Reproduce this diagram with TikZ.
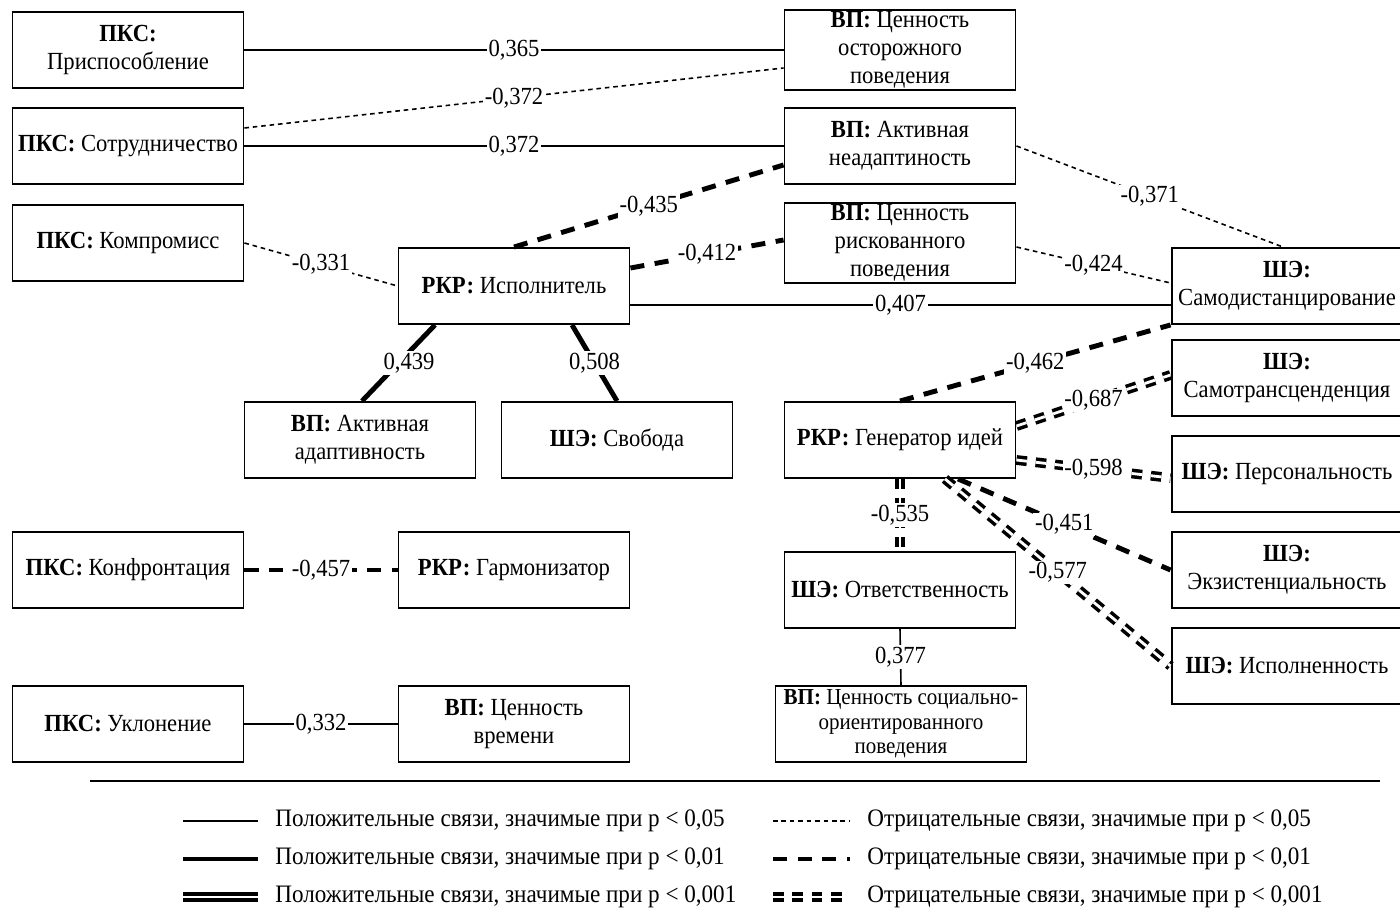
\documentclass[tikz,border=0pt]{standalone}
\usepackage{fontspec}
\setmainfont{Liberation Serif}[FakeStretch=0.92]
\usetikzlibrary{calc}

\newcommand{\grp}[1]{\textbf{#1:}}

\tikzset{
  box/.style={draw, line width=1.1pt, minimum width=4.62cm, minimum height=1.52cm,
    align=center, inner sep=1pt, font=\fontsize{14}{16}\selectfont},
  lbl/.style={fill=white, inner sep=1pt, font=\fontsize{14}{15}\selectfont},
  legtext/.style={anchor=west, inner sep=0pt, font=\fontsize{14.3}{15}\selectfont},
  pos05/.style={line width=0.9pt},
  pos01/.style={line width=2.8pt},
  pos001/.style={double, line width=2.2pt, double distance=1.7pt},
  neg05/.style={line width=0.9pt, dash pattern=on 2.6pt off 2.2pt},
  neg01/.style={line width=2.8pt, dash pattern=on 8pt off 6pt},
  neg001/.style={double, line width=2pt, double distance=1.6pt, dash pattern=on 6pt off 5pt},
}

\begin{document}
\begin{tikzpicture}[x=0.02cm, y=-0.02cm]

    \useasboundingbox (0,0) rectangle (1400,911);

    % Left column: ПКС
    \node[box] (prisp) at (128,50)  {\grp{ПКС}\\Приспособление};
    \node[box] (sotr)  at (128,146) {\grp{ПКС} Сотрудничество};
    \node[box] (kompr) at (128,243) {\grp{ПКС} Компромисс};
    \node[box] (konfr) at (128,570) {\grp{ПКС} Конфронтация};
    \node[box] (uklon) at (128,724) {\grp{ПКС} Уклонение};

    % Middle column
    \node[box] (ispoln)  at (514,286) {\grp{РКР} Исполнитель};
    \node[box] (adapt)   at (360,440) {\grp{ВП} Активная\\адаптивность};
    \node[box] (svoboda) at (617,440) {\grp{ШЭ} Свобода};
    \node[box] (garmon)  at (514,570) {\grp{РКР} Гармонизатор};
    \node[box] (vremya)  at (514,724) {\grp{ВП} Ценность\\времени};

    % ВП column and РКР: Генератор идей
    \node[box] (ostor)   at (900,50)  {\grp{ВП} Ценность\\осторожного\\поведения};
    \node[box] (neadapt) at (900,146) {\grp{ВП} Активная\\неадаптиность};
    \node[box] (risk)    at (900,243) {\grp{ВП} Ценность\\рискованного\\поведения};
    \node[box] (gener)   at (900,440) {\grp{РКР} Генератор идей};
    \node[box] (otvet)   at (900,590) {\grp{ШЭ} Ответственность};
    \node[box, minimum width=5.02cm, font=\fontsize{13}{14}\selectfont] (socor) at (901,724)
        {\grp{ВП} Ценность социально-\\ориентированного\\поведения};

    % Right column: ШЭ (cut by the page edge)
    \node[box] (samodist) at (1287,286) {\grp{ШЭ}\\Самодистанцирование};
    \node[box] (samotr)   at (1287,378) {\grp{ШЭ}\\Самотрансценденция};
    \node[box] (person)   at (1287,474) {\grp{ШЭ} Персональность};
    \node[box] (ekzist)   at (1287,570) {\grp{ШЭ}\\Экзистенциальность};
    \node[box] (ispolnen) at (1287,666) {\grp{ШЭ} Исполненность};

    % Connections
    \draw[pos05] (prisp.east) -- node[lbl] {0,365} (ostor.west);
    \draw[neg05] ($(sotr.east)+(0,-18)$) -- node[lbl] {-0,372} ($(ostor.west)+(0,18)$);
    \draw[pos05] (sotr.east) -- node[lbl] {0,372} (neadapt.west);
    \draw[neg05] (kompr.east) -- node[lbl] {-0,331} (ispoln.west);
    \draw[neg01] (ispoln.north) -- node[lbl] {-0,435} ($(neadapt.west)+(0,19)$);
    \draw[neg01] ($(ispoln.east)+(0,-18)$) -- node[lbl] {-0,412} ($(risk.west)+(0,-3)$);
    \draw[pos05] ($(ispoln.east)+(0,19)$) -- node[lbl] {0,407} ($(samodist.west)+(0,19)$);
    \draw[neg05] (neadapt.east) -- node[lbl] {-0,371} ($(samodist.north)+(-4,0)$);
    \draw[neg05] ($(risk.east)+(0,4)$) -- node[lbl] {-0,424} ($(samodist.west)+(0,-3)$);
    \draw[pos01] ($(ispoln.south)+(-79,0)$) -- node[lbl, xshift=6pt] {0,439} ($(adapt.north)+(2,0)$);
    \draw[pos01] ($(ispoln.south)+(58,0)$) -- node[lbl] {0,508} (svoboda.north);
    \draw[neg01] (gener.north) -- node[lbl] {-0,462} (samodist.south west);
    \draw[neg001] ($(gener.east)+(0,-14)$) -- node[lbl] {-0,687} ($(samotr.west)+(0,-3)$);
    \draw[neg001] ($(gener.east)+(0,20)$) -- node[lbl] {-0,598} ($(person.west)+(0,4)$);
    \draw[neg001] (gener.south) -- node[lbl] {-0,535} (otvet.north);
    \draw[neg01] ($(gener.south)+(58,0)$) -- node[lbl] {-0,451} (ekzist.west);
    \draw[neg001] ($(gener.south)+(45,0)$) -- node[lbl] {-0,577} (ispolnen.west);
    \draw[pos05] (otvet.south) -- node[lbl] {0,377} (socor.north);
    \draw[neg01] (konfr.east) -- node[lbl] {-0,457} (garmon.west);
    \draw[pos05] (uklon.east) -- node[lbl] {0,332} (vremya.west);

    % Legend
    \draw[line width=0.8pt] (90,781) -- (1380,781);
    \foreach \sty/\yy/\pv in {pos05/821/{0,05}, pos01/859/{0,01}, pos001/897/{0,001}} {
        \draw[\sty] (183,\yy) -- (258,\yy);
        \node[legtext] (posleg\yy) at (275,\yy) {Положительные связи, значимые при p < \pv};
    }
    \foreach \sty/\yy/\pv in {neg05/821/{0,05}, neg01/859/{0,01}, neg001/897/{0,001}} {
        \draw[\sty] (773,\yy) -- (850,\yy);
        \node[legtext] (negleg\yy) at (867,\yy) {Отрицательные связи, значимые при p < \pv};
    }

\end{tikzpicture}
\end{document}
